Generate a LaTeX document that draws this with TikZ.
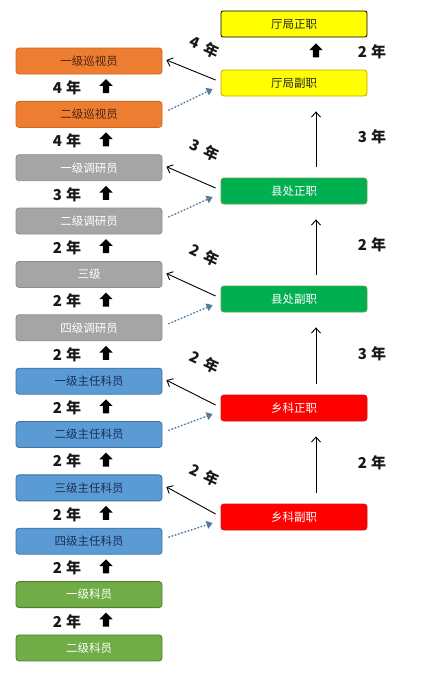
\documentclass[tikz,border=0pt]{standalone}
\usepackage{fontspec}
\newfontfamily\cjk{Noto Sans CJK SC}
\usepackage{pgf,tikz}
\usetikzlibrary{arrows,arrows.meta,shapes,shapes.arrows}

\definecolor{xsfill}{HTML}{ED7D31}
\definecolor{xsdraw}{HTML}{D0691F}
\definecolor{xstext}{HTML}{4A2410}
\definecolor{dyfill}{HTML}{A5A5A5}
\definecolor{dydraw}{HTML}{8E8E8E}
\definecolor{kyfill}{HTML}{5B9BD5}
\definecolor{kydraw}{HTML}{41719C}
\definecolor{kytext}{HTML}{1A2E55}
\definecolor{kefill}{HTML}{70AD47}
\definecolor{kedraw}{HTML}{507E32}
\definecolor{tjfill}{HTML}{FFFF00}
\definecolor{tjdraw}{HTML}{C9A200}
\definecolor{xcfill}{HTML}{00B050}
\definecolor{xcdraw}{HTML}{5FA040}
\definecolor{xkfill}{HTML}{FF0000}
\definecolor{xkdraw}{HTML}{D01010}
\definecolor{pointille}{HTML}{56799A}

\begin{document}
\begin{tikzpicture}[x=1pt,y=-1pt]
  \useasboundingbox (0,0) rectangle (434,675);

  \tikzstyle{every node}=[font=\cjk\fontsize{11.5}{13}\selectfont]
  \tikzstyle{post}=[rectangle,rounded corners=3pt,minimum width=146pt,minimum height=26pt,line width=0.8pt,inner sep=0pt]
  \tikzstyle{xunshi}=[post,fill=xsfill,draw=xsdraw,text=xstext]
  \tikzstyle{diaoyan}=[post,fill=dyfill,draw=dydraw,text=white]
  \tikzstyle{keyuan}=[post,fill=kyfill,draw=kydraw,text=kytext]
  \tikzstyle{kezhi}=[post,fill=kefill,draw=kedraw,text=white]
  \tikzstyle{tingjuz}=[post,rounded corners=2pt,fill=tjfill,draw=black,text=black!85]
  \tikzstyle{tingju}=[post,fill=tjfill,draw=tjdraw,text=black!85]
  \tikzstyle{xianchu}=[post,fill=xcfill,draw=xcdraw,text=white]
  \tikzstyle{xiangke}=[post,fill=xkfill,draw=xkdraw,text=white]
  \tikzstyle{nian}=[font=\cjk\bfseries\fontsize{15}{17}\selectfont,text=black!90]
  \tikzstyle{bloc}=[single arrow,fill=black,shape border rotate=90,minimum height=14pt,minimum width=13pt,single arrow head extend=3.5pt,inner sep=3pt]
  \tikzstyle{monte}=[-{Straight Barb[length=5pt,width=9pt]},line width=0.9pt]
  \tikzstyle{passe}=[-{Straight Barb[length=5pt,width=9pt]},line width=0.9pt]
  \tikzstyle{equiv}=[-{Triangle[length=6pt,width=8pt]},dotted,line width=1.4pt,draw=pointille,fill=pointille]

  % colonne de gauche
  \foreach \i/\style/\nom in {1/xunshi/一级巡视员, 2/xunshi/二级巡视员,
    3/diaoyan/一级调研员, 4/diaoyan/二级调研员, 5/diaoyan/三级, 6/diaoyan/四级调研员,
    7/keyuan/一级主任科员, 8/keyuan/二级主任科员, 9/keyuan/三级主任科员, 10/keyuan/四级主任科员,
    11/kezhi/一级科员, 12/kezhi/二级科员} {
    \node[\style] (L\i) at (89,{61+53.36*(\i-1)}) {\nom};
  }
  \foreach \i/\nb in {1/4,2/4,3/3,4/2,5/2,6/2,7/2,8/2,9/2,10/2,11/2} {
    \node[nian] (yl\i) at (67,{87.7+53.36*(\i-1)}) {\nb\hspace{4pt}年};
    \node[bloc] (al\i) at (106,{87.7+53.36*(\i-1)}) {};
  }

  % colonne de droite
  \foreach \j/\style/\nom/\y in {1/tingjuz/厅局正职/24, 2/tingju/厅局副职/83,
    3/xianchu/县处正职/191, 4/xianchu/县处副职/299, 5/xiangke/乡科正职/408, 6/xiangke/乡科副职/517} {
    \node[\style] (R\j) at (294,\y) {\nom};
  }
  \node[bloc] (ar1) at (316,52) {};
  \node[nian] (yr1) at (372,52) {2\hspace{4pt}年};
  \foreach \a/\b/\nb in {2/3/3, 3/4/2, 4/5/3, 5/6/2} {
    \draw[monte,shorten <=11pt,shorten >=15pt] ([xshift=22pt]R\b.north) -- ([xshift=22pt]R\a.south)
      node[nian,midway,xshift=56pt] (yr\a) {\nb\hspace{4pt}年};
  }

  % passages entre colonnes
  \foreach \j/\k/\nb/\y in {2/1/4/47, 3/3/3/150, 4/5/2/255, 5/7/2/362, 6/9/2/475} {
    \pgfmathtruncatemacro{\kk}{\k+1}
    \draw[passe] ([xshift=-5pt,yshift=3pt]R\j.west) -- ([xshift=4pt,yshift=1pt]L\k.east);
    \draw[equiv] ([xshift=6pt,yshift=4pt]L\kk.east) -- ([xshift=-8pt,yshift=-6pt]R\j.west);
    \node[nian,rotate=-25] (yd\j) at (205,\y) {\nb\hspace{6pt}年};
  }
\end{tikzpicture}
\end{document}
